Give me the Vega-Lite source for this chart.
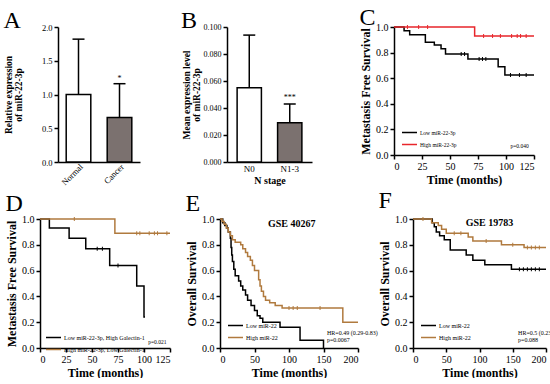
{
  "$schema": "https://vega.github.io/schema/vega-lite/v6.json",
  "background": "white",
  "padding": {"left": 3, "top": 6, "right": 0, "bottom": 0},
  "spacing": 2,
  "columns": 1,
  "align": "none",
  "resolve": {"scale": {"color": "independent", "fill": "independent", "x": "independent", "y": "independent"}, "legend": {"color": "independent", "fill": "independent"}},
  "config": {
    "font": "Liberation Serif",
    "view": {"stroke": null},
    "axis": {"domainColor": "black", "tickColor": "black", "labelColor": "black", "titleColor": "black", "grid": false, "labelFont": "Liberation Serif", "titleFont": "Liberation Serif", "titleFontWeight": "bold", "domainWidth": 1.5, "tickWidth": 1.5, "tickSize": 4, "labelPadding": 2, "titlePadding": 3, "labelOverlap": false},
    "title": {"font": "Liberation Serif", "fontWeight": "normal", "fontSize": 24, "anchor": "start", "frame": "bounds", "color": "black", "offset": 0},
    "text": {"color": "black"},
    "legend": {"orient": "bottom-left", "title": null, "symbolType": "stroke", "symbolSize": 225, "symbolStrokeWidth": 1.5, "labelFont": "Liberation Serif", "labelFontSize": 6, "labelColor": "black", "rowPadding": -5, "offset": 7, "padding": 0, "labelOffset": 2}
  },
  "datasets": {
    "A_bars": [
      {"group": "Normal", "mean": 1.0, "upper": 1.82, "sig": ""},
      {"group": "Cancer", "mean": 0.66, "upper": 1.16, "sig": "*"}
    ],
    "B_bars": [
      {"group": "N0", "mean": 0.055, "upper": 0.094, "sig": ""},
      {"group": "N1-3", "mean": 0.029, "upper": 0.043, "sig": "***"}
    ],
    "C_curve": [
      {"group": "Low miR-22-3p", "month": 0, "survival": 1.0},
      {"group": "Low miR-22-3p", "month": 9, "survival": 0.97},
      {"group": "Low miR-22-3p", "month": 14, "survival": 0.94},
      {"group": "Low miR-22-3p", "month": 28, "survival": 0.88},
      {"group": "Low miR-22-3p", "month": 36, "survival": 0.86},
      {"group": "Low miR-22-3p", "month": 42, "survival": 0.83},
      {"group": "Low miR-22-3p", "month": 46, "survival": 0.79},
      {"group": "Low miR-22-3p", "month": 66, "survival": 0.75},
      {"group": "Low miR-22-3p", "month": 93, "survival": 0.69},
      {"group": "Low miR-22-3p", "month": 99, "survival": 0.625},
      {"group": "Low miR-22-3p", "month": 125, "survival": 0.625},
      {"group": "High miR-22-3p", "month": 0, "survival": 1.0},
      {"group": "High miR-22-3p", "month": 72, "survival": 0.93},
      {"group": "High miR-22-3p", "month": 125, "survival": 0.93}
    ],
    "C_cens": [
      {"group": "Low miR-22-3p", "month": 60, "survival": 0.79},
      {"group": "Low miR-22-3p", "month": 63, "survival": 0.79},
      {"group": "Low miR-22-3p", "month": 76, "survival": 0.75},
      {"group": "Low miR-22-3p", "month": 79, "survival": 0.75},
      {"group": "Low miR-22-3p", "month": 82, "survival": 0.75},
      {"group": "Low miR-22-3p", "month": 104, "survival": 0.625},
      {"group": "Low miR-22-3p", "month": 112, "survival": 0.625},
      {"group": "Low miR-22-3p", "month": 118, "survival": 0.625},
      {"group": "High miR-22-3p", "month": 12, "survival": 1.0},
      {"group": "High miR-22-3p", "month": 22, "survival": 1.0},
      {"group": "High miR-22-3p", "month": 30, "survival": 1.0},
      {"group": "High miR-22-3p", "month": 80, "survival": 0.93},
      {"group": "High miR-22-3p", "month": 88, "survival": 0.93},
      {"group": "High miR-22-3p", "month": 95, "survival": 0.93},
      {"group": "High miR-22-3p", "month": 105, "survival": 0.93},
      {"group": "High miR-22-3p", "month": 110, "survival": 0.93},
      {"group": "High miR-22-3p", "month": 113, "survival": 0.93},
      {"group": "High miR-22-3p", "month": 118, "survival": 0.93}
    ],
    "C_note": [{"month": 104, "survival": 0.07, "label": "p=0.040"}],
    "D_curve": [
      {"group": "Low miR-22-3p, High Galectin-1", "month": 0, "survival": 1.0},
      {"group": "Low miR-22-3p, High Galectin-1", "month": 9, "survival": 0.93},
      {"group": "Low miR-22-3p, High Galectin-1", "month": 28, "survival": 0.85},
      {"group": "Low miR-22-3p, High Galectin-1", "month": 44, "survival": 0.77},
      {"group": "Low miR-22-3p, High Galectin-1", "month": 67, "survival": 0.64},
      {"group": "Low miR-22-3p, High Galectin-1", "month": 93, "survival": 0.48},
      {"group": "Low miR-22-3p, High Galectin-1", "month": 100, "survival": 0.24},
      {"group": "Low miR-22-3p, High Galectin-1", "month": 101, "survival": 0.24},
      {"group": "High miR-22-3p, Low Galectin-1", "month": 0, "survival": 1.0},
      {"group": "High miR-22-3p, Low Galectin-1", "month": 72, "survival": 0.89},
      {"group": "High miR-22-3p, Low Galectin-1", "month": 125, "survival": 0.89}
    ],
    "D_cens": [
      {"group": "Low miR-22-3p, High Galectin-1", "month": 55, "survival": 0.77},
      {"group": "Low miR-22-3p, High Galectin-1", "month": 60, "survival": 0.77},
      {"group": "Low miR-22-3p, High Galectin-1", "month": 75, "survival": 0.64},
      {"group": "High miR-22-3p, Low Galectin-1", "month": 33, "survival": 1.0},
      {"group": "High miR-22-3p, Low Galectin-1", "month": 93, "survival": 0.89},
      {"group": "High miR-22-3p, Low Galectin-1", "month": 96, "survival": 0.89},
      {"group": "High miR-22-3p, Low Galectin-1", "month": 105, "survival": 0.89},
      {"group": "High miR-22-3p, Low Galectin-1", "month": 110, "survival": 0.89},
      {"group": "High miR-22-3p, Low Galectin-1", "month": 113, "survival": 0.89},
      {"group": "High miR-22-3p, Low Galectin-1", "month": 122, "survival": 0.89}
    ],
    "D_note": [{"month": 104, "survival": 0.05, "label": "p=0.021"}],
    "E_curve": [
      {"group": "Low miR-22", "month": 0, "survival": 1.0},
      {"group": "Low miR-22", "month": 4, "survival": 0.97},
      {"group": "Low miR-22", "month": 7, "survival": 0.95},
      {"group": "Low miR-22", "month": 10, "survival": 0.93},
      {"group": "Low miR-22", "month": 12, "survival": 0.9},
      {"group": "Low miR-22", "month": 15, "survival": 0.85},
      {"group": "Low miR-22", "month": 16, "survival": 0.78},
      {"group": "Low miR-22", "month": 17, "survival": 0.72},
      {"group": "Low miR-22", "month": 18, "survival": 0.67},
      {"group": "Low miR-22", "month": 20, "survival": 0.61},
      {"group": "Low miR-22", "month": 22, "survival": 0.56},
      {"group": "Low miR-22", "month": 27, "survival": 0.52},
      {"group": "Low miR-22", "month": 30, "survival": 0.48},
      {"group": "Low miR-22", "month": 33, "survival": 0.45},
      {"group": "Low miR-22", "month": 37, "survival": 0.41},
      {"group": "Low miR-22", "month": 40, "survival": 0.37},
      {"group": "Low miR-22", "month": 45, "survival": 0.33},
      {"group": "Low miR-22", "month": 50, "survival": 0.29},
      {"group": "Low miR-22", "month": 54, "survival": 0.25},
      {"group": "Low miR-22", "month": 58, "survival": 0.23},
      {"group": "Low miR-22", "month": 62, "survival": 0.2},
      {"group": "Low miR-22", "month": 87, "survival": 0.16},
      {"group": "Low miR-22", "month": 116, "survival": 0.06},
      {"group": "Low miR-22", "month": 150, "survival": 0.0},
      {"group": "High miR-22", "month": 0, "survival": 1.0},
      {"group": "High miR-22", "month": 3, "survival": 0.98},
      {"group": "High miR-22", "month": 6, "survival": 0.96},
      {"group": "High miR-22", "month": 9, "survival": 0.93},
      {"group": "High miR-22", "month": 12, "survival": 0.9},
      {"group": "High miR-22", "month": 15, "survival": 0.87},
      {"group": "High miR-22", "month": 18, "survival": 0.84},
      {"group": "High miR-22", "month": 22, "survival": 0.82},
      {"group": "High miR-22", "month": 30, "survival": 0.8},
      {"group": "High miR-22", "month": 33, "survival": 0.77},
      {"group": "High miR-22", "month": 37, "survival": 0.74},
      {"group": "High miR-22", "month": 40, "survival": 0.71},
      {"group": "High miR-22", "month": 44, "survival": 0.68},
      {"group": "High miR-22", "month": 47, "survival": 0.64},
      {"group": "High miR-22", "month": 50, "survival": 0.6},
      {"group": "High miR-22", "month": 56, "survival": 0.53},
      {"group": "High miR-22", "month": 58, "survival": 0.48},
      {"group": "High miR-22", "month": 60, "survival": 0.44},
      {"group": "High miR-22", "month": 63, "survival": 0.4},
      {"group": "High miR-22", "month": 66, "survival": 0.37},
      {"group": "High miR-22", "month": 72, "survival": 0.35},
      {"group": "High miR-22", "month": 80, "survival": 0.33},
      {"group": "High miR-22", "month": 90, "survival": 0.31},
      {"group": "High miR-22", "month": 178, "survival": 0.2},
      {"group": "High miR-22", "month": 200, "survival": 0.2}
    ],
    "E_cens": [
      {"group": "High miR-22", "month": 100, "survival": 0.31},
      {"group": "High miR-22", "month": 106, "survival": 0.31},
      {"group": "High miR-22", "month": 112, "survival": 0.31},
      {"group": "High miR-22", "month": 145, "survival": 0.31}
    ],
    "E_note": [
      {"month": 155, "survival": 0.115, "label": "HR=0.49 (0.29-0.83)"},
      {"month": 155, "survival": 0.06, "label": "p=0.0067"}
    ],
    "E_head": [{"month": 104, "survival": 0.96, "label": "GSE 40267"}],
    "F_curve": [
      {"group": "Low miR-22", "month": 0, "survival": 1.0},
      {"group": "Low miR-22", "month": 29, "survival": 0.97},
      {"group": "Low miR-22", "month": 32, "survival": 0.94},
      {"group": "Low miR-22", "month": 35, "survival": 0.9},
      {"group": "Low miR-22", "month": 40, "survival": 0.87},
      {"group": "Low miR-22", "month": 47, "survival": 0.84},
      {"group": "Low miR-22", "month": 56, "survival": 0.76},
      {"group": "Low miR-22", "month": 80, "survival": 0.72},
      {"group": "Low miR-22", "month": 90, "survival": 0.68},
      {"group": "Low miR-22", "month": 108, "survival": 0.645},
      {"group": "Low miR-22", "month": 148, "survival": 0.61},
      {"group": "Low miR-22", "month": 200, "survival": 0.61},
      {"group": "High miR-22", "month": 0, "survival": 1.0},
      {"group": "High miR-22", "month": 28, "survival": 0.97},
      {"group": "High miR-22", "month": 38, "survival": 0.95},
      {"group": "High miR-22", "month": 43, "survival": 0.92},
      {"group": "High miR-22", "month": 50, "survival": 0.89},
      {"group": "High miR-22", "month": 83, "survival": 0.86},
      {"group": "High miR-22", "month": 90, "survival": 0.83},
      {"group": "High miR-22", "month": 133, "survival": 0.8},
      {"group": "High miR-22", "month": 167, "survival": 0.78},
      {"group": "High miR-22", "month": 200, "survival": 0.78}
    ],
    "F_cens": [
      {"group": "Low miR-22", "month": 160, "survival": 0.61},
      {"group": "Low miR-22", "month": 166, "survival": 0.61},
      {"group": "Low miR-22", "month": 172, "survival": 0.61},
      {"group": "Low miR-22", "month": 178, "survival": 0.61},
      {"group": "Low miR-22", "month": 184, "survival": 0.61},
      {"group": "Low miR-22", "month": 190, "survival": 0.61},
      {"group": "High miR-22", "month": 15, "survival": 1.0},
      {"group": "High miR-22", "month": 62, "survival": 0.89},
      {"group": "High miR-22", "month": 72, "survival": 0.89},
      {"group": "High miR-22", "month": 110, "survival": 0.83},
      {"group": "High miR-22", "month": 150, "survival": 0.8},
      {"group": "High miR-22", "month": 172, "survival": 0.78},
      {"group": "High miR-22", "month": 178, "survival": 0.78},
      {"group": "High miR-22", "month": 184, "survival": 0.78},
      {"group": "High miR-22", "month": 190, "survival": 0.78}
    ],
    "F_note": [
      {"month": 158, "survival": 0.115, "label": "HR=0.5 (0.23-1.12)"},
      {"month": 158, "survival": 0.06, "label": "p=0.088"}
    ],
    "F_head": [{"month": 115, "survival": 0.97, "label": "GSE 19783"}]
  },
  "concat": [
    {
      "spacing": 47,
      "resolve": {"scale": {"color": "independent", "fill": "independent", "x": "independent", "y": "independent"}, "legend": {"color": "independent", "fill": "independent"}},
      "hconcat": [
        {
          "spacing": 41,
          "resolve": {"scale": {"fill": "independent", "x": "independent", "y": "independent"}},
          "hconcat": [
            {
              "width": 82, "height": 135,
              "title": {"text": "A", "offset": -10},
              "data": {"name": "A_bars"},
              "encoding": {
                "x": {"field": "group", "type": "nominal", "sort": null, "scale": {"paddingInner": 0.4, "paddingOuter": 0.2}, "axis": {"labelAngle": -45, "labelFontSize": 8.5, "labelPadding": 0, "title": null, "ticks": false}},
                "y": {"field": "mean", "type": "quantitative", "scale": {"domain": [0, 2]}, "axis": {"values": [0, 0.5, 1, 1.5, 2], "format": ".1f", "labelFontSize": 8.5, "title": ["Relative expression", "of miR-22-3p"], "titleFontSize": 9.5, "titleLineHeight": 10, "titlePadding": 18}}
              },
              "layer": [
                {"mark": {"type": "bar", "stroke": "black", "strokeWidth": 1.5},
                 "encoding": {"fill": {"field": "group", "type": "nominal", "scale": {"domain": ["Normal", "Cancer"], "range": ["white", "#7b716f"]}, "legend": null}}},
                {"mark": {"type": "rule", "color": "black", "strokeWidth": 1.5},
                 "encoding": {"y2": {"field": "upper"}}},
                {"mark": {"type": "tick", "color": "black", "size": 12, "thickness": 1.5, "opacity": 1},
                 "encoding": {"y": {"field": "upper", "type": "quantitative", "axis": {"values": [0, 0.5, 1, 1.5, 2], "format": ".1f", "labelFontSize": 8.5, "title": ["Relative expression", "of miR-22-3p"], "titleFontSize": 9.5, "titleLineHeight": 10, "titlePadding": 18}}}},
                {"mark": {"type": "text", "baseline": "bottom", "dy": -1, "fontSize": 8, "color": "black"},
                 "encoding": {"y": {"field": "upper", "type": "quantitative", "axis": {"values": [0, 0.5, 1, 1.5, 2], "format": ".1f", "labelFontSize": 8.5, "title": ["Relative expression", "of miR-22-3p"], "titleFontSize": 9.5, "titleLineHeight": 10, "titlePadding": 18}}, "text": {"field": "sig"}}}
              ]
            },
            {
              "width": 85, "height": 135,
              "title": {"text": "B", "offset": -10},
              "data": {"name": "B_bars"},
              "encoding": {
                "x": {"field": "group", "type": "nominal", "sort": null, "scale": {"paddingInner": 0.4, "paddingOuter": 0.25}, "axis": {"labelAngle": 0, "labelFontSize": 9, "title": "N stage", "titleFontSize": 10, "titlePadding": 2, "ticks": false}},
                "y": {"field": "mean", "type": "quantitative", "scale": {"domain": [0, 0.1]}, "axis": {"values": [0, 0.02, 0.04, 0.06, 0.08, 0.1], "format": ".3f", "labelFontSize": 8, "title": ["Mean expression level", "of miR-22-3p"], "titleFontSize": 9.5, "titleLineHeight": 10, "titlePadding": 2}}
              },
              "layer": [
                {"mark": {"type": "bar", "stroke": "black", "strokeWidth": 1.5},
                 "encoding": {"fill": {"field": "group", "type": "nominal", "scale": {"domain": ["N0", "N1-3"], "range": ["white", "#7b716f"]}, "legend": null}}},
                {"mark": {"type": "rule", "color": "black", "strokeWidth": 1.5},
                 "encoding": {"y2": {"field": "upper"}}},
                {"mark": {"type": "tick", "color": "black", "size": 12, "thickness": 1.5, "opacity": 1},
                 "encoding": {"y": {"field": "upper", "type": "quantitative", "axis": {"values": [0, 0.02, 0.04, 0.06, 0.08, 0.1], "format": ".3f", "labelFontSize": 8, "title": ["Mean expression level", "of miR-22-3p"], "titleFontSize": 9.5, "titleLineHeight": 10, "titlePadding": 2}}}},
                {"mark": {"type": "text", "baseline": "bottom", "dy": -2, "fontSize": 8, "color": "black"},
                 "encoding": {"y": {"field": "upper", "type": "quantitative", "axis": {"values": [0, 0.02, 0.04, 0.06, 0.08, 0.1], "format": ".3f", "labelFontSize": 8, "title": ["Mean expression level", "of miR-22-3p"], "titleFontSize": 9.5, "titleLineHeight": 10, "titlePadding": 2}}, "text": {"field": "sig"}}}
              ]
            }
          ]
        },
        {
          "resolve": {"scale": {"color": "independent", "fill": "independent"}},
          "hconcat": [
            {
              "width": 140, "height": 128,
              "title": {"text": "C", "offset": -8},
              "resolve": {"scale": {"color": "independent", "fill": "independent"}},
              "encoding": {
                "x": {"field": "month", "type": "quantitative", "scale": {"domain": [0, 125], "nice": false}, "axis": {"values": [0, 25, 50, 75, 100, 125], "labelFontSize": 10, "title": "Time (months)", "titleFontSize": 12}},
                "y": {"field": "survival", "type": "quantitative", "scale": {"domain": [0, 1]}, "axis": {"values": [0, 0.2, 0.4, 0.6, 0.8, 1], "format": ".1f", "labelFontSize": 10, "title": "Metastasis Free Survival", "titleFontSize": 12}}
              },
              "layer": [
                {"data": {"name": "C_curve"},
                 "mark": {"type": "line", "interpolate": "step-after", "strokeWidth": 1.5},
                 "encoding": {"color": {"field": "group", "type": "nominal", "scale": {"domain": ["Low miR-22-3p", "High miR-22-3p"], "range": ["black", "#e8262b"]}, "legend": {"orient": "bottom-left", "labelFontSize": 5.5}}}},
                {"data": {"name": "C_cens"},
                 "mark": {"type": "tick", "orient": "vertical", "size": 4, "thickness": 1, "opacity": 1},
                 "encoding": {"fill": {"field": "group", "type": "nominal", "scale": {"domain": ["Low miR-22-3p", "High miR-22-3p"], "range": ["black", "#e8262b"]}, "legend": null}}},
                {"data": {"name": "C_note"},
                 "mark": {"type": "text", "align": "left", "fontSize": 5.5, "color": "black"},
                 "encoding": {"text": {"field": "label"}}}
              ]
            }
          ]
        }
      ]
    },
    {
      "spacing": 0,
      "resolve": {"scale": {"color": "independent", "fill": "independent", "x": "independent", "y": "independent"}, "legend": {"color": "independent", "fill": "independent"}},
      "hconcat": [
        {
          "spacing": -3,
          "resolve": {"scale": {"color": "independent", "fill": "independent", "x": "independent", "y": "independent"}, "legend": {"color": "independent", "fill": "independent"}},
          "hconcat": [
            {
              "width": 112, "height": 129,
              "title": {"text": "D", "offset": -2},
              "resolve": {"scale": {"color": "independent", "fill": "independent"}},
              "encoding": {
                "x": {"field": "month", "type": "quantitative", "scale": {"domain": [0, 125], "nice": false, "range": [-18, 112]}, "axis": {"values": [0, 25, 50, 75, 100, 125], "labelFontSize": 10, "title": "Time (months)", "titleFontSize": 12}},
                "y": {"field": "survival", "type": "quantitative", "scale": {"domain": [0, 1]}, "axis": {"values": [0, 0.2, 0.4, 0.6, 0.8, 1], "format": ".1f", "labelFontSize": 10, "offset": 18, "title": "Metastasis Free Survival", "titleFontSize": 12}}
              },
              "layer": [
                {"data": {"name": "D_curve"},
                 "mark": {"type": "line", "interpolate": "step-after", "strokeWidth": 1.5},
                 "encoding": {"color": {"field": "group", "type": "nominal", "scale": {"domain": ["Low miR-22-3p, High Galectin-1", "High miR-22-3p, Low Galectin-1"], "range": ["black", "#b07a3e"]}, "legend": {"orient": "none", "legendX": -13, "legendY": 110}}}},
                {"data": {"name": "D_cens"},
                 "mark": {"type": "tick", "orient": "vertical", "size": 4, "thickness": 1, "opacity": 1},
                 "encoding": {"fill": {"field": "group", "type": "nominal", "scale": {"domain": ["Low miR-22-3p, High Galectin-1", "High miR-22-3p, Low Galectin-1"], "range": ["black", "#b07a3e"]}, "legend": null}}},
                {"data": {"name": "D_note"},
                 "mark": {"type": "text", "align": "left", "fontSize": 5.5, "color": "black"},
                 "encoding": {"text": {"field": "label"}}}
              ]
            },
            {
              "width": 138, "height": 129,
              "title": {"text": "E", "offset": -2},
              "resolve": {"scale": {"color": "independent", "fill": "independent"}},
              "encoding": {
                "x": {"field": "month", "type": "quantitative", "scale": {"domain": [0, 200], "nice": false}, "axis": {"values": [0, 50, 100, 150, 200], "labelFontSize": 10, "title": "Time (months)", "titleFontSize": 12}},
                "y": {"field": "survival", "type": "quantitative", "scale": {"domain": [0, 1]}, "axis": {"values": [0, 0.2, 0.4, 0.6, 0.8, 1], "format": ".1f", "labelFontSize": 10, "title": "Overall Survival", "titleFontSize": 12}}
              },
              "layer": [
                {"data": {"name": "E_curve"},
                 "mark": {"type": "line", "interpolate": "step-after", "strokeWidth": 1.5},
                 "encoding": {"color": {"field": "group", "type": "nominal", "scale": {"domain": ["Low miR-22", "High miR-22"], "range": ["black", "#b07a3e"]}, "legend": {"orient": "bottom-left"}}}},
                {"data": {"name": "E_cens"},
                 "mark": {"type": "tick", "orient": "vertical", "size": 4, "thickness": 1, "opacity": 1},
                 "encoding": {"fill": {"field": "group", "type": "nominal", "scale": {"domain": ["Low miR-22", "High miR-22"], "range": ["black", "#b07a3e"]}, "legend": null}}},
                {"data": {"name": "E_note"},
                 "mark": {"type": "text", "align": "left", "fontSize": 6, "color": "black"},
                 "encoding": {"text": {"field": "label"}}},
                {"data": {"name": "E_head"},
                 "mark": {"type": "text", "align": "center", "fontSize": 10, "fontWeight": "bold", "color": "black"},
                 "encoding": {"text": {"field": "label"}}}
              ]
            }
          ]
        },
        {
          "resolve": {"scale": {"color": "independent", "fill": "independent"}},
          "hconcat": [
            {
              "width": 133, "height": 129,
              "title": {"text": "F", "offset": 1},
              "resolve": {"scale": {"color": "independent", "fill": "independent"}},
              "encoding": {
                "x": {"field": "month", "type": "quantitative", "scale": {"domain": [0, 200], "nice": false}, "axis": {"values": [0, 50, 100, 150, 200], "labelFontSize": 10, "title": "Time (months)", "titleFontSize": 12}},
                "y": {"field": "survival", "type": "quantitative", "scale": {"domain": [0, 1]}, "axis": {"values": [0, 0.2, 0.4, 0.6, 0.8, 1], "format": ".1f", "labelFontSize": 10, "title": "Overall Survival", "titleFontSize": 12}}
              },
              "layer": [
                {"data": {"name": "F_curve"},
                 "mark": {"type": "line", "interpolate": "step-after", "strokeWidth": 1.5},
                 "encoding": {"color": {"field": "group", "type": "nominal", "scale": {"domain": ["Low miR-22", "High miR-22"], "range": ["black", "#b07a3e"]}, "legend": {"orient": "bottom-left"}}}},
                {"data": {"name": "F_cens"},
                 "mark": {"type": "tick", "orient": "vertical", "size": 4, "thickness": 1, "opacity": 1},
                 "encoding": {"fill": {"field": "group", "type": "nominal", "scale": {"domain": ["Low miR-22", "High miR-22"], "range": ["black", "#b07a3e"]}, "legend": null}}},
                {"data": {"name": "F_note"},
                 "mark": {"type": "text", "align": "left", "fontSize": 6, "color": "black"},
                 "encoding": {"text": {"field": "label"}}},
                {"data": {"name": "F_head"},
                 "mark": {"type": "text", "align": "center", "fontSize": 10, "fontWeight": "bold", "color": "black"},
                 "encoding": {"text": {"field": "label"}}}
              ]
            }
          ]
        }
      ]
    }
  ]
}
